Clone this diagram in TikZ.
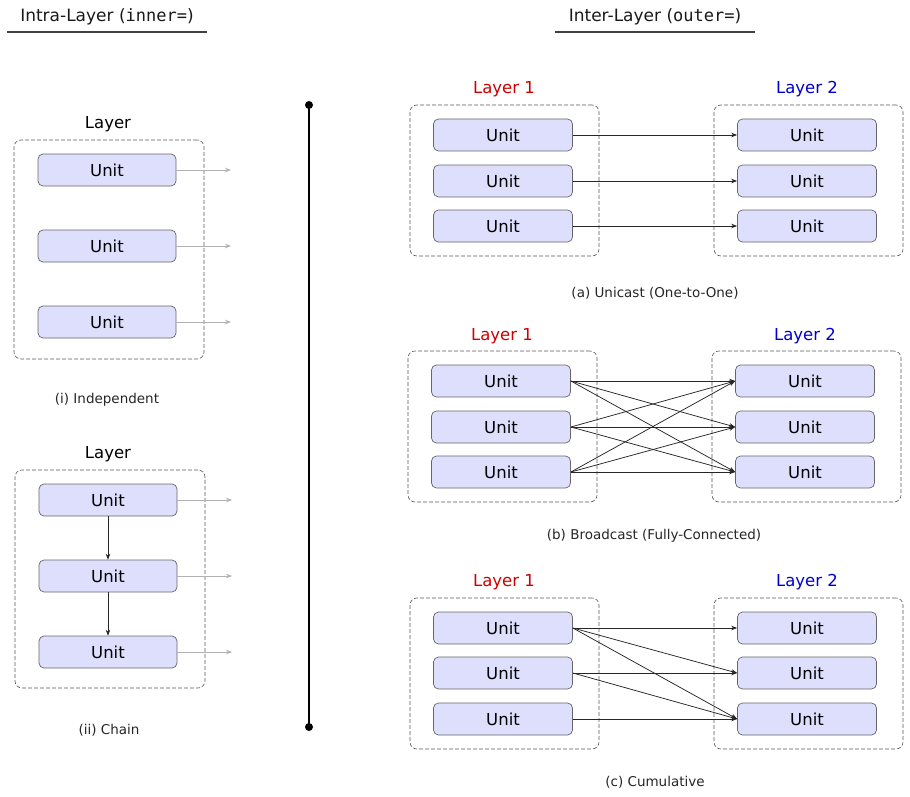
\documentclass[tikz,border=0pt]{standalone}
\usepackage{fontspec}
\setmainfont{DejaVu Sans}
\setmonofont{DejaVu Sans Mono}
\usetikzlibrary{arrows.meta}
\definecolor{unitfill}{RGB}{221,223,252}
\definecolor{lred}{RGB}{204,0,0}
\definecolor{lblue}{RGB}{0,0,204}
\begin{document}
\begin{tikzpicture}[x=1pt,y=-1pt,
  unit/.style={draw=black!60, fill=unitfill, rounded corners=5pt, minimum width=139pt, minimum height=32pt, inner sep=0pt, font=\fontsize{16.5}{19}\selectfont, line width=0.7pt},
  lay/.style={draw=black!65, dash pattern=on 4pt off 2pt, rounded corners=7pt, inner sep=0pt, line width=0.6pt},
  laylbl/.style={font=\fontsize{16.5}{19}\selectfont, inner sep=0pt},
  captxt/.style={font=\fontsize{13.5}{16}\selectfont, inner sep=0pt, text=black!85},
  head/.style={font=\fontsize{17}{20}\selectfont, inner sep=0pt, text=black!90},
  conn/.style={-{Stealth[length=6pt,width=4.5pt]}, line width=0.75pt, draw=black!85},
  outc/.style={-{Stealth[length=6pt,width=4.5pt]}, line width=0.75pt, draw=black!30},
  rulel/.style={line width=1.4pt, draw=black!75}
]
\useasboundingbox (0,0) rectangle (910,797);

% headings
\node[head] (h1) at (107,17) {Intra-Layer (\texttt{inner=})};
\coordinate (h1a) at (7,32); \coordinate (h1b) at (207,32);
\draw[rulel] (h1a) -- (h1b);
\node[head] (h2) at (655,17) {Inter-Layer (\texttt{outer=})};
\coordinate (h2a) at (555,32); \coordinate (h2b) at (755,32);
\draw[rulel] (h2a) -- (h2b);

% (i) Independent
\node[laylbl] (il) at (108,124) {Layer};
\node[lay, minimum width=190pt, minimum height=219pt] (ibox) at (109,249.5) {};
\node[unit, minimum width=138pt] (i1) at (107,170) {Unit};
\node[unit, minimum width=138pt] (i2) at (107,246) {Unit};
\node[unit, minimum width=138pt] (i3) at (107,322) {Unit};
\coordinate (io1) at (231,170); \coordinate (io2) at (231,246); \coordinate (io3) at (231,322);
\draw[outc] (i1.east) -- (io1);
\draw[outc] (i2.east) -- (io2);
\draw[outc] (i3.east) -- (io3);
\node[captxt] (icap) at (107,400) {(i) Independent};

% (ii) Chain
\node[laylbl] (iil) at (108,454) {Layer};
\node[lay, minimum width=190pt, minimum height=218pt] (iibox) at (110,579) {};
\node[unit, minimum width=138pt] (ii1) at (108,500) {Unit};
\node[unit, minimum width=138pt] (ii2) at (108,576) {Unit};
\node[unit, minimum width=138pt] (ii3) at (108,652) {Unit};
\coordinate (iio1) at (232,500); \coordinate (iio2) at (232,576); \coordinate (iio3) at (232,652);
\draw[outc] (ii1.east) -- (iio1);
\draw[outc] (ii2.east) -- (iio2);
\draw[outc] (ii3.east) -- (iio3);
\draw[conn] (ii1.south) -- (ii2.north);
\draw[conn] (ii2.south) -- (ii3.north);
\node[captxt] (iicap) at (109,730) {(ii) Chain};

% divider
\coordinate (vt) at (309,105); \coordinate (vb) at (309,727);
\draw[line width=1.4pt] (vt) -- (vb);
\fill (vt) circle (4pt);
\fill (vb) circle (4pt);

% (a) Unicast
\node[laylbl, text=lred] (al1) at (504,89) {Layer 1};
\node[laylbl, text=lblue] (al2) at (807,89) {Layer 2};
\node[lay, minimum width=189pt, minimum height=151pt] (abox1) at (504.5,180.5) {};
\node[lay, minimum width=189pt, minimum height=151pt] (abox2) at (808.5,180.5) {};
\node[unit] (a1) at (503,135) {Unit};
\node[unit] (a2) at (503,181) {Unit};
\node[unit] (a3) at (503,226) {Unit};
\node[unit] (b1) at (807,135) {Unit};
\node[unit] (b2) at (807,181) {Unit};
\node[unit] (b3) at (807,226) {Unit};
\draw[conn] (a1.east) -- (b1.west);
\draw[conn] (a2.east) -- (b2.west);
\draw[conn] (a3.east) -- (b3.west);
\node[captxt] (acap) at (655,293) {(a) Unicast (One-to-One)};

% (b) Broadcast
\node[laylbl, text=lred] (bl1) at (502,336) {Layer 1};
\node[laylbl, text=lblue] (bl2) at (805,336) {Layer 2};
\node[lay, minimum width=189pt, minimum height=151pt] (bbox1) at (502.5,426.5) {};
\node[lay, minimum width=189pt, minimum height=151pt] (bbox2) at (806.5,426.5) {};
\node[unit] (c1) at (501,381) {Unit};
\node[unit] (c2) at (501,427) {Unit};
\node[unit] (c3) at (501,472) {Unit};
\node[unit] (d1) at (805,381) {Unit};
\node[unit] (d2) at (805,427) {Unit};
\node[unit] (d3) at (805,472) {Unit};
\foreach \s in {1,2,3}{\foreach \t in {1,2,3}{\draw[conn] (c\s.east) -- (d\t.west);}}
\node[captxt] (bcap) at (654,536) {(b) Broadcast (Fully-Connected)};

% (c) Cumulative
\node[laylbl, text=lred] (cl1) at (504,582) {Layer 1};
\node[laylbl, text=lblue] (cl2) at (807,582) {Layer 2};
\node[lay, minimum width=189pt, minimum height=151pt] (cbox1) at (504.5,673.5) {};
\node[lay, minimum width=189pt, minimum height=151pt] (cbox2) at (808.5,673.5) {};
\node[unit] (e1) at (503,628) {Unit};
\node[unit] (e2) at (503,673) {Unit};
\node[unit] (e3) at (503,719) {Unit};
\node[unit] (f1) at (807,628) {Unit};
\node[unit] (f2) at (807,673) {Unit};
\node[unit] (f3) at (807,719) {Unit};
\draw[conn] (e1.east) -- (f1.west);
\draw[conn] (e1.east) -- (f2.west);
\draw[conn] (e1.east) -- (f3.west);
\draw[conn] (e2.east) -- (f2.west);
\draw[conn] (e2.east) -- (f3.west);
\draw[conn] (e3.east) -- (f3.west);
\node[captxt] (ccap) at (655,782) {(c) Cumulative};
\end{tikzpicture}
\end{document}
